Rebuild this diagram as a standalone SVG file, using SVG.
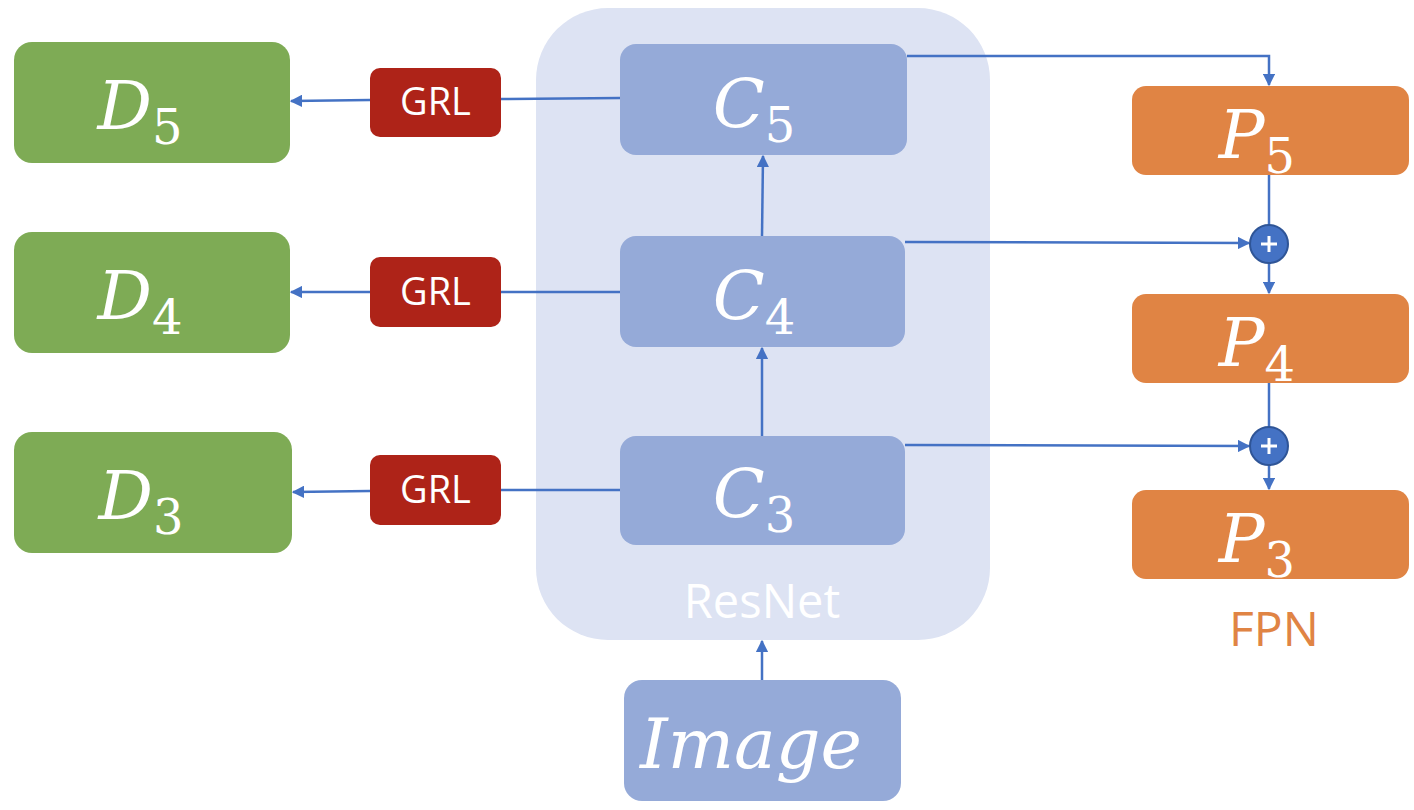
<svg xmlns="http://www.w3.org/2000/svg" width="1414" height="810" viewBox="0 0 1414 810">
<defs>
<marker id="ah" viewBox="0 0 10 10" refX="9" refY="5" markerWidth="5" markerHeight="5" orient="auto-start-reverse" markerUnits="strokeWidth">
<path d="M0,0 L10,5 L0,10 z" fill="#4472c4"/>
</marker>
<style>
.d{fill:#7eab55}
.g{fill:#ae2318}
.c{fill:#95aad8}
.p{fill:#e08444}
.m{font-family:"DejaVu Serif","Liberation Serif",serif;font-style:italic;fill:#fff;font-size:68px;text-anchor:middle}
.s{font-family:"DejaVu Serif","Liberation Serif",serif;font-style:normal;font-size:48px}
.t{font-family:"Open Sans","Noto Sans","Liberation Sans",sans-serif;fill:#fff;font-size:38px;text-anchor:middle}
.ln{stroke:#4472c4;stroke-width:2.5;fill:none}
</style>
</defs>
<rect id="resnet-bg" x="536" y="8" width="454" height="632" rx="72" fill="#dde3f3"/>
<g id="D5"><rect class="d" x="14" y="42" width="276" height="121" rx="18"/><text class="m" x="140" y="129">D<tspan class="s" dy="15">5</tspan></text></g>
<g id="D4"><rect class="d" x="14" y="232" width="276" height="121" rx="18"/><text class="m" x="140" y="319">D<tspan class="s" dy="15">4</tspan></text></g>
<g id="D3"><rect class="d" x="14" y="432" width="278" height="121" rx="18"/><text class="m" x="141" y="519">D<tspan class="s" dy="15">3</tspan></text></g>
<g id="GRL5"><rect class="g" x="370" y="68" width="131" height="69" rx="10"/><text class="t" x="435.500" y="115">GRL</text></g>
<g id="GRL4"><rect class="g" x="370" y="257" width="131" height="70" rx="10"/><text class="t" x="435.500" y="305">GRL</text></g>
<g id="GRL3"><rect class="g" x="370" y="455" width="131" height="70" rx="10"/><text class="t" x="435.500" y="503">GRL</text></g>
<g id="C5"><rect class="c" x="620" y="44" width="287" height="111" rx="16"/><text class="m" x="754" y="127">C<tspan class="s" dy="15">5</tspan></text></g>
<g id="C4"><rect class="c" x="620" y="236" width="285" height="111" rx="16"/><text class="m" x="754" y="319">C<tspan class="s" dy="15">4</tspan></text></g>
<g id="C3"><rect class="c" x="620" y="436" width="285" height="109" rx="16"/><text class="m" x="754" y="517">C<tspan class="s" dy="15">3</tspan></text></g>
<g id="ResNet"><text class="t" x="762" y="618" style="font-size:47px">ResNet</text></g>
<g id="Image"><rect class="c" x="624" y="680" width="277" height="121" rx="18"/><text class="m" x="751" y="768" style="font-size:70px">Image</text></g>
<g id="P5"><rect class="p" x="1132" y="86" width="277" height="89" rx="14"/><text class="m" x="1257" y="158">P<tspan class="s" dy="15">5</tspan></text></g>
<g id="P4"><rect class="p" x="1132" y="294" width="277" height="89" rx="14"/><text class="m" x="1257" y="366">P<tspan class="s" dy="15">4</tspan></text></g>
<g id="P3"><rect class="p" x="1132" y="490" width="277" height="89" rx="14"/><text class="m" x="1257" y="562">P<tspan class="s" dy="15">3</tspan></text></g>
<g id="FPN"><text x="1274" y="646" text-anchor="middle" style="font-family:'Open Sans','Noto Sans','Liberation Sans',sans-serif;font-size:48px;fill:#e08444">FPN</text></g>
<g id="connectors">
<line class="ln" x1="620" y1="98" x2="501" y2="99"/>
<line class="ln" x1="370" y1="100" x2="291" y2="101" marker-end="url(#ah)"/>
<line class="ln" x1="620" y1="292" x2="501" y2="292"/>
<line class="ln" x1="370" y1="292" x2="291" y2="292" marker-end="url(#ah)"/>
<line class="ln" x1="620" y1="490" x2="501" y2="490"/>
<line class="ln" x1="370" y1="491" x2="293" y2="492" marker-end="url(#ah)"/>
<line class="ln" x1="762" y1="236" x2="763" y2="156" marker-end="url(#ah)"/>
<line class="ln" x1="762" y1="436" x2="762" y2="348" marker-end="url(#ah)"/>
<line class="ln" x1="762" y1="680" x2="762" y2="641" marker-end="url(#ah)"/>
<polyline class="ln" points="907,56 1269,56 1269,85" marker-end="url(#ah)"/>
<line class="ln" x1="1269" y1="175" x2="1269" y2="226"/>
<line class="ln" x1="905" y1="242" x2="1249" y2="243" marker-end="url(#ah)"/>
<line class="ln" x1="1269" y1="263" x2="1269" y2="293" marker-end="url(#ah)"/>
<line class="ln" x1="1269" y1="383" x2="1269" y2="428"/>
<line class="ln" x1="905" y1="445" x2="1249" y2="446" marker-end="url(#ah)"/>
<line class="ln" x1="1269" y1="465" x2="1269" y2="489" marker-end="url(#ah)"/>
</g>
<g id="plus1"><circle cx="1269" cy="244" r="19" fill="#4472c4" stroke="#2f5597" stroke-width="2"/><path d="M1261,244 H1277 M1269,236 V252" stroke="#fff" stroke-width="3"/></g>
<g id="plus2"><circle cx="1269" cy="446" r="19" fill="#4472c4" stroke="#2f5597" stroke-width="2"/><path d="M1261,446 H1277 M1269,438 V454" stroke="#fff" stroke-width="3"/></g>
</svg>
